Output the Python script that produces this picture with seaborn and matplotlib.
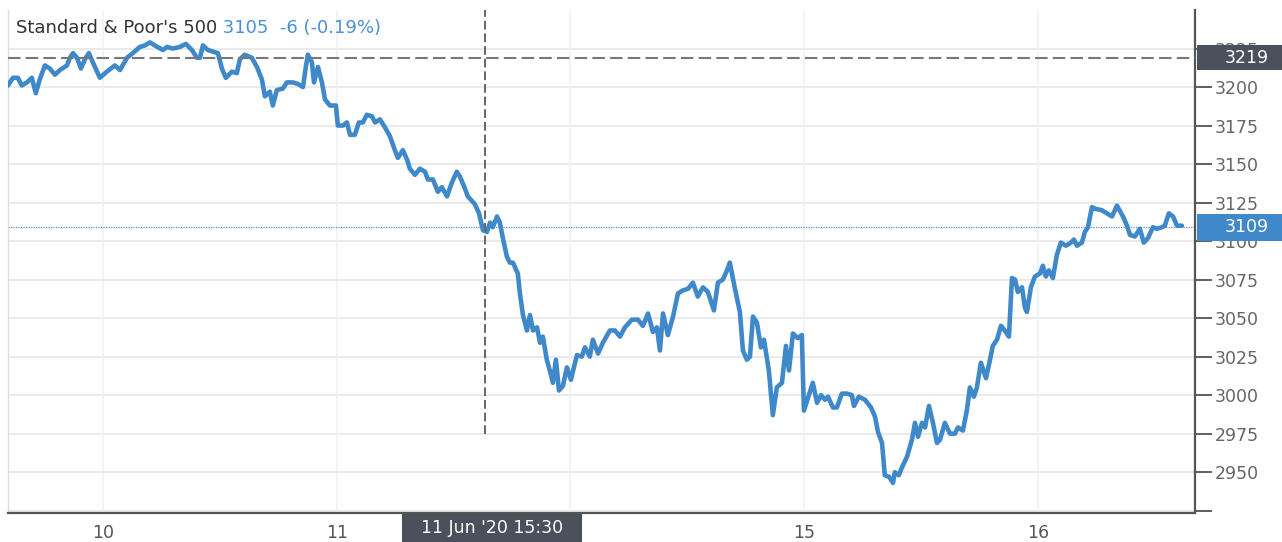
import matplotlib
matplotlib.use('Agg')
import matplotlib.pyplot as plt
import matplotlib.patches as mpatches
import seaborn as sns

# S&P 500 intraday, x = trading days since 10 Jun (compressed axis)
day_pos = [
    -0.406, -0.385, -0.364, -0.347, -0.325, -0.304, -0.287, -0.270, -0.248, -0.227,
    -0.205, -0.184, -0.154, -0.141, -0.128, -0.111, -0.094, -0.077, -0.060, -0.043,
    -0.013, 0.017, 0.051, 0.073, 0.103, 0.128, 0.158, 0.180, 0.201, 0.222,
    0.257, 0.274, 0.299, 0.329, 0.355, 0.381, 0.402, 0.415, 0.428, 0.449,
    0.471, 0.492, 0.509, 0.526, 0.552, 0.573, 0.586, 0.607, 0.637, 0.659,
    0.680, 0.693, 0.714, 0.727, 0.744, 0.770, 0.787, 0.813, 0.834, 0.856,
    0.868, 0.877, 0.894, 0.903, 0.920, 0.937, 0.950, 0.971, 0.997, 1.005,
    1.027, 1.044, 1.057, 1.078, 1.095, 1.112, 1.129, 1.151, 1.164, 1.185,
    1.206, 1.228, 1.249, 1.262, 1.283, 1.301, 1.313, 1.335, 1.356, 1.378,
    1.390, 1.412, 1.433, 1.450, 1.472, 1.493, 1.514, 1.527, 1.549, 1.561,
    1.591, 1.609, 1.626, 1.643, 1.656, 1.668, 1.686, 1.698, 1.711, 1.728,
    1.741, 1.754, 1.775, 1.784, 1.797, 1.814, 1.827, 1.840, 1.857, 1.870,
    1.882, 1.899, 1.912, 1.925, 1.938, 1.951, 1.968, 1.985, 2.002, 2.028,
    2.049, 2.062, 2.083, 2.096, 2.118, 2.139, 2.169, 2.190, 2.212, 2.233,
    2.263, 2.289, 2.310, 2.332, 2.353, 2.370, 2.383, 2.396, 2.417, 2.439,
    2.460, 2.481, 2.503, 2.524, 2.545, 2.567, 2.588, 2.614, 2.631, 2.652,
    2.670, 2.682, 2.704, 2.725, 2.738, 2.755, 2.768, 2.781, 2.798, 2.815,
    2.828, 2.849, 2.866, 2.883, 2.905, 2.922, 2.935, 2.952, 2.973, 2.990,
    2.999, 3.016, 3.037, 3.055, 3.072, 3.089, 3.102, 3.123, 3.140, 3.161,
    3.183, 3.204, 3.213, 3.234, 3.260, 3.286, 3.303, 3.316, 3.333, 3.345,
    3.363, 3.380, 3.388, 3.405, 3.418, 3.440, 3.461, 3.474, 3.487, 3.504,
    3.517, 3.534, 3.551, 3.568, 3.581, 3.602, 3.624, 3.645, 3.658, 3.679,
    3.696, 3.709, 3.726, 3.739, 3.756, 3.778, 3.795, 3.807, 3.825, 3.842,
    3.863, 3.876, 3.889, 3.902, 3.914, 3.932, 3.944, 3.953, 3.970, 3.987,
    4.009, 4.021, 4.034, 4.047, 4.064, 4.081, 4.098, 4.120, 4.141, 4.154,
    4.167, 4.188, 4.201, 4.214, 4.231, 4.244, 4.274, 4.295, 4.317, 4.338,
    4.364, 4.381, 4.394, 4.415, 4.436, 4.453, 4.471, 4.492, 4.509, 4.531,
    4.543, 4.560, 4.578, 4.595, 4.616,
]
price = [
    3201, 3206, 3206, 3201, 3203, 3206, 3196, 3205, 3214, 3212,
    3208, 3211, 3214, 3219, 3222, 3219, 3212, 3218, 3222, 3216,
    3206, 3210, 3214, 3211, 3219, 3222, 3226, 3227, 3229, 3227,
    3224, 3226, 3225, 3226, 3228, 3224, 3219, 3219, 3227, 3224,
    3223, 3222, 3212, 3206, 3210, 3209, 3218, 3221, 3219, 3213,
    3205, 3194, 3197, 3188, 3198, 3199, 3203, 3203, 3202, 3200,
    3213, 3221, 3216, 3203, 3213, 3203, 3192, 3188, 3188, 3175,
    3175, 3177, 3169, 3169, 3177, 3177, 3182, 3181, 3177, 3179,
    3174, 3168, 3159, 3154, 3159, 3153, 3147, 3143, 3147, 3145,
    3140, 3140, 3132, 3135, 3129, 3138, 3145, 3142, 3134, 3129,
    3124, 3118, 3107, 3106, 3112, 3109, 3116, 3112, 3102, 3090,
    3086, 3086, 3079, 3066, 3052, 3042, 3052, 3042, 3044, 3034,
    3038, 3023, 3016, 3008, 3023, 3003, 3006, 3018, 3010, 3026,
    3025, 3031, 3025, 3036, 3027, 3034, 3042, 3042, 3038, 3044,
    3049, 3049, 3045, 3053, 3041, 3044, 3029, 3053, 3039, 3051,
    3066, 3068, 3069, 3073, 3064, 3070, 3067, 3055, 3073, 3075,
    3081, 3086, 3069, 3054, 3029, 3023, 3025, 3051, 3047, 3031,
    3036, 3016, 2987, 3005, 3008, 3032, 3016, 3040, 3037, 3039,
    2990, 2998, 3008, 2995, 3000, 2997, 2999, 2992, 2992, 3001,
    3001, 3000, 2993, 2999, 2997, 2992, 2986, 2976, 2969, 2948,
    2947, 2943, 2950, 2948, 2953, 2960, 2971, 2982, 2973, 2982,
    2979, 2993, 2982, 2969, 2971, 2982, 2975, 2975, 2979, 2977,
    2990, 3005, 2999, 3005, 3021, 3011, 3023, 3032, 3036, 3045,
    3041, 3038, 3076, 3075, 3067, 3070, 3057, 3054, 3070, 3077,
    3079, 3084, 3077, 3081, 3076, 3091, 3099, 3097, 3099, 3101,
    3097, 3099, 3106, 3109, 3122, 3121, 3120, 3118, 3116, 3123,
    3116, 3110, 3104, 3103, 3108, 3099, 3102, 3109, 3108, 3109,
    3110, 3118, 3116, 3110, 3110,
]

day_ticks = [0, 1, 2, 3, 4]
day_labels = ['10', '11', '12', '15', '16']
price_ticks = [2925, 2950, 2975, 3000, 3025, 3050, 3075, 3100, 3125, 3150, 3175, 3200, 3225]

title_name = "Standard & Poor's 500"
title_quote = "3105  -6 (-0.19%)"
cursor_day = 1.634
cursor_price = 3219
cursor_label = "11 Jun '20 15:30"
last_price = 3109

line_blue = '#3f89cb'
dark_box = '#4b515c'

sns.set_style('white')
plt.rcParams['font.family'] = ['DejaVu Sans']

fig = plt.figure(figsize=(12.82, 5.42), dpi=100)
ax = fig.add_axes([8 / 1282, 29 / 542, 1187 / 1282, 503 / 542])

# grid
for p in price_ticks:
    ax.axhline(p, color='#e6e6e6', lw=1.2, zorder=0)
for d in day_ticks:
    ax.axvline(d, color='#edf2f7', lw=1.2, zorder=0)

sns.lineplot(x=day_pos, y=price, ax=ax, color=line_blue, linewidth=3.3,
             solid_joinstyle='round', solid_capstyle='round', zorder=3)

ax.set_xlim(-0.406, 4.672)
ax.set_ylim(2923.5, 3250)

# crosshair + last price line
ax.axhline(last_price, color='#4a90d9', lw=0.9, ls=(0, (1, 1)), zorder=2)
ax.axhline(cursor_price, color='#777777', lw=1.5, ls=(0, (6, 2.5)), zorder=4)
ax.plot([cursor_day, cursor_day], [2975, 3250], color='#666666', lw=1.4,
        ls=(0, (4.5, 2)), zorder=4)

# axes styling
ax.yaxis.tick_right()
ax.set_yticks(price_ticks)
ax.set_yticklabels([''] + [str(p) for p in price_ticks[1:]])
ax.set_xticks(day_ticks)
ax.set_xticklabels(day_labels)
ax.tick_params(axis='y', length=12, width=1.2, color='#444444', pad=2,
               labelsize=12.5, labelcolor='#666666')
ax.tick_params(axis='x', length=0, pad=8, labelsize=12.5, labelcolor='#555555')
ax.set_xlabel('')
ax.set_ylabel('')
ax.spines['top'].set_visible(False)
ax.spines['left'].set_color('#dddddd')
ax.spines['left'].set_linewidth(1)
for side in ['right', 'bottom']:
    ax.spines[side].set_color('#555555')
    ax.spines[side].set_linewidth(1.6)

# price tags on the right axis
yt = ax.get_yaxis_transform()
for val, col, half in [(cursor_price, dark_box, 8.2), (last_price, line_blue, 8.8)]:
    ax.add_patch(mpatches.Rectangle((1.002, val - half), 0.1, 2 * half, transform=yt,
                                    facecolor=col, edgecolor='none', clip_on=False, zorder=10))
    ax.text(1.0438, val, str(val), transform=yt, color='white', fontsize=12.5,
            ha='center', va='center', clip_on=False, zorder=11)

# cursor date tag under the x axis (covers the "12" label like the original)
xt = ax.get_xaxis_transform()
ax.add_patch(mpatches.Rectangle((1.279, -0.06), 0.77, 0.058, transform=xt,
                                facecolor=dark_box, edgecolor='none', clip_on=False, zorder=10))
ax.text(1.664, -0.029, cursor_label, transform=xt, color='white',
        fontsize=12.5, ha='center', va='center', clip_on=False, zorder=11)

# title
t1 = ax.text(0.0067, 0.964, title_name, transform=ax.transAxes, color='#333333',
             fontsize=13, ha='left', va='center', zorder=6)
ax.annotate(' ' + title_quote, xy=(1, 0), xycoords=t1, va='bottom', ha='left',
            color='#4a90d9', fontsize=13, zorder=6)

plt.savefig('out.png', dpi=100)
plt.close()
